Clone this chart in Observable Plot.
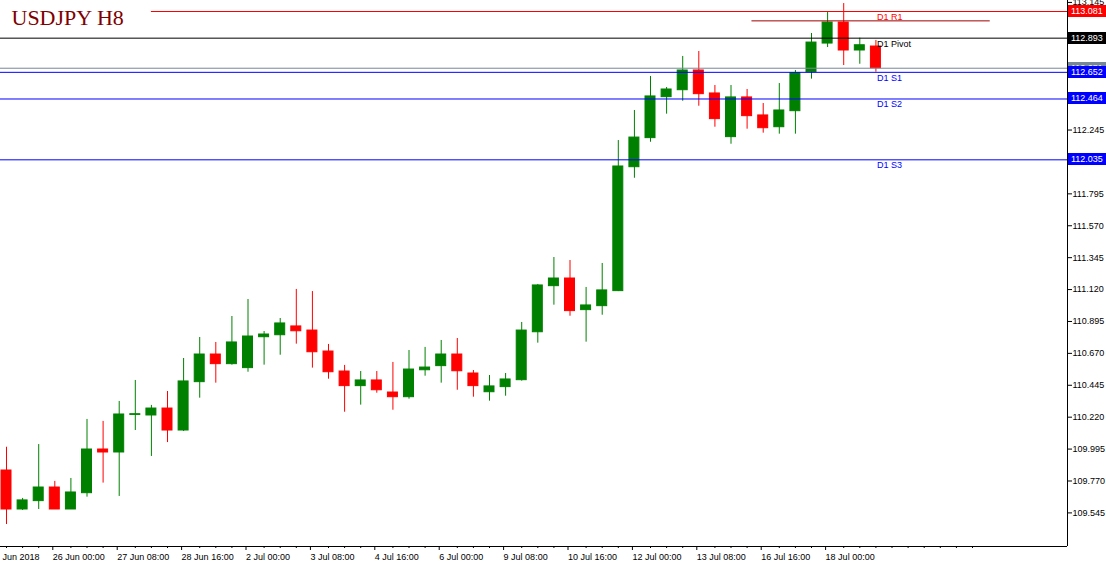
<!DOCTYPE html>
<html><head><meta charset="utf-8">
<script src="https://cdn.jsdelivr.net/npm/d3@7"></script>
<script src="https://cdn.jsdelivr.net/npm/@observablehq/plot@0.6"></script>
<style>
html,body{margin:0;padding:0;background:#fff;}
#chart svg{display:block;}
</style></head><body><div id="chart"></div>
<script>
// ---- data ----
const title = "USDJPY H8";
const opens = [109.844,109.569,109.628,109.724,109.569,109.684,109.992,109.971,110.236,110.232,
110.281,110.126,110.467,110.662,110.594,110.566,110.784,110.798,110.860,110.831,
110.683,110.542,110.439,110.479,110.394,110.361,110.551,110.580,110.662,110.528,
110.396,110.432,110.481,110.819,111.144,111.198,110.975,111.003,111.109,111.983,
112.188,112.477,112.526,112.665,112.503,112.195,112.475,112.348,112.265,112.378,
112.653,112.855,113.003,112.806,112.834];
const highs = [110.008,109.647,110.027,109.767,109.788,110.204,110.190,110.331,110.479,110.303,
110.401,110.634,110.782,110.747,110.930,111.050,110.824,110.916,111.121,111.106,
110.733,110.585,110.542,110.542,110.606,110.690,110.712,110.761,110.775,110.549,
110.514,110.528,110.888,111.156,111.346,111.325,111.135,111.304,112.171,112.383,
112.623,112.545,112.764,112.799,112.559,112.559,112.531,112.432,112.573,112.665,
112.926,113.074,113.137,112.893,112.877];
const lows = [109.463,109.562,109.569,109.569,109.569,109.656,109.755,109.661,110.126,109.943,
110.041,110.119,110.354,110.460,110.587,110.537,110.587,110.657,110.735,110.566,
110.488,110.255,110.305,110.389,110.269,110.347,110.509,110.460,110.410,110.361,
110.333,110.368,110.474,110.742,111.010,110.932,110.749,110.939,111.106,111.905,
112.159,112.357,112.448,112.413,112.265,112.145,112.251,112.223,112.216,112.216,
112.604,112.827,112.700,112.709,112.653];
const closes = [109.569,109.633,109.724,109.569,109.689,109.992,109.971,110.239,110.241,110.281,
110.126,110.472,110.662,110.594,110.747,110.789,110.803,110.881,110.826,110.678,
110.537,110.439,110.479,110.410,110.361,110.556,110.570,110.662,110.544,110.439,
110.437,110.486,110.831,111.149,111.198,110.968,111.008,111.114,111.988,112.192,
112.482,112.531,112.665,112.498,112.322,112.475,112.343,112.258,112.383,112.646,
112.862,113.003,112.806,112.843,112.681];

const xTickIndex = [3,7,11,15,19,23,27,31,35,39,43,47,51];
const xTickLabels = ["26 Jun 00:00","27 Jun 08:00","28 Jun 16:00","2 Jul 00:00","3 Jul 08:00",
  "4 Jul 16:00","6 Jul 00:00","9 Jul 08:00","10 Jul 16:00","12 Jul 00:00","13 Jul 08:00",
  "16 Jul 16:00","18 Jul 00:00"];
const firstDateLabel = "Jun 2018";
const yTicks = [109.545,109.770,109.995,110.220,110.445,110.670,110.895,111.120,111.345,
  111.570,111.795,112.020,112.245,112.470,112.695,112.920,113.145];

const levelNames = ["D1 R1","D1 Pivot","D1 S1","D1 S2","D1 S3"];
const levelValues = [113.081,112.893,112.652,112.464,112.035];
const levelStartIndex = [9, null, null, null, null];
const bidPrice = 112.681;
const segmentValue = 113.015, segmentFrom = 46.3, segmentTo = 61.1;

// ---- styles ----
const UP = "#008000", DOWN = "#ff0000";
const levelColors = {"D1 R1": "#ff0000", "D1 Pivot": "#000000", "D1 S1": "#0000ff", "D1 S2": "#0000ff", "D1 S3": "#0000ff"};
const boxColors = {"D1 R1": "#ff0000", "D1 Pivot": "#000000", "bid": "#778899", "D1 S1": "#0000ff", "D1 S2": "#0000ff", "D1 S3": "#0000ff"};
const FONT = "'Liberation Sans', Arial, sans-serif";

// ---- derived tables ----
const candles = opens.map((o, i) => ({i, open: o, high: highs[i], low: lows[i], close: closes[i], up: closes[i] >= o}));
const levels = levelNames.map((name, k) => ({name, value: levelValues[k], start: levelStartIndex[k]}));
const boxes = [
  {key: "D1 R1", value: levelValues[0]},
  {key: "D1 Pivot", value: levelValues[1]},
  {key: "bid", value: bidPrice},
  {key: "D1 S1", value: levelValues[2]},
  {key: "D1 S2", value: levelValues[3]},
  {key: "D1 S3", value: levelValues[4]}
];
const lastIndex = candles.length - 1;
const xDomain = [-0.373, 65.9];
const yDomain = [109.308, 113.1586];
const minorTicks = d3.range(0, 61).filter(i => !xTickIndex.includes(i));
const fmt = d3.format(".3f");
// tick labels that sit under a price box are hidden by it (as on the reference)
const tickFmt = v => boxes.some(b => Math.abs(b.value - v) < 0.045) ? "" : fmt(v);

function priceBoxes(index, scales, values, dimensions) {
  const {width, height, marginRight, marginTop, marginBottom} = dimensions;
  const y = typeof scales.y === "function" ? scales.y
    : d3.scaleLinear(yDomain, [height - marginBottom, marginTop]);
  const g = d3.create("svg:g").attr("font-family", FONT).attr("font-size", 9).attr("text-anchor", "start");
  const x0 = width - marginRight + 1;
  for (const b of boxes) {
    const yy = Math.round(y(b.value));
    g.append("rect").attr("x", x0).attr("y", yy - 6).attr("width", marginRight - 1).attr("height", 12).attr("fill", boxColors[b.key]);
    g.append("text").attr("x", x0 + 3).attr("y", yy).attr("dy", "0.35em").attr("text-anchor", "start")
      .attr("fill", "white").text(fmt(b.value));
  }
  return g.node();
}

const plot = Plot.plot({
  width: 1106, height: 566,
  marginLeft: 0, marginRight: 39, marginTop: 0, marginBottom: 20,
  style: {fontFamily: FONT, fontSize: "9px", background: "white", color: "black"},
  x: {type: "linear", domain: xDomain, label: null},
  y: {type: "linear", domain: yDomain, label: null},
  marks: [
    // wicks
    Plot.ruleX(candles, {x: "i", y1: "low", y2: "high", stroke: d => d.up ? UP : DOWN, strokeWidth: 1}),
    // bodies
    Plot.rect(candles, {x1: d => d.i - 0.31, x2: d => d.i + 0.31, y1: "open", y2: "close",
      fill: d => d.up ? UP : DOWN, stroke: d => d.up ? UP : DOWN, strokeWidth: 1}),
    // bid line
    Plot.ruleY([bidPrice], {stroke: boxColors.bid, strokeWidth: 1}),
    // pivot levels
    Plot.ruleY(levels, {y: "value", x1: d => d.start ?? xDomain[0], x2: xDomain[1], stroke: d => levelColors[d.name], strokeWidth: 1}),
    Plot.ruleY([segmentValue], {x1: segmentFrom, x2: segmentTo, stroke: "#a00000", strokeWidth: 1}),
    Plot.text(levels, {x: lastIndex, y: "value", text: "name", textAnchor: "start", lineAnchor: "top",
      dx: 1, dy: 2, fill: d => levelColors[d.name], fontSize: 9}),
    // frame lines
    Plot.ruleX([xDomain[1]], {stroke: "black"}),
    Plot.ruleY([yDomain[0]], {stroke: "black"}),
    // axes
    Plot.axisX(minorTicks, {anchor: "bottom", tickSize: 2, tickFormat: () => "", label: null}),
    Plot.axisX(xTickIndex, {anchor: "bottom", tickSize: 4, tickPadding: 3, textAnchor: "start", dx: -2,
      tickFormat: i => xTickLabels[xTickIndex.indexOf(i)], fontSize: 9, label: null}),
    Plot.text([firstDateLabel], {frameAnchor: "bottom-left", text: d => d, textAnchor: "start", lineAnchor: "top", dx: 2, dy: 7, fontSize: 9}),
    Plot.axisY(yTicks, {anchor: "right", tickSize: 4, tickPadding: 1, tickFormat: tickFmt, fontSize: 9, label: null}),
    // price boxes on the right scale
    priceBoxes,
    // title
    Plot.text([title], {frameAnchor: "top-left", text: d => d, textAnchor: "start", lineAnchor: "top",
      dx: 11, dy: 9, fontFamily: "'Liberation Serif', 'Times New Roman', serif", fontSize: 22, fill: "#800000"})
  ]
});
document.getElementById("chart").appendChild(plot);
</script></body></html>
